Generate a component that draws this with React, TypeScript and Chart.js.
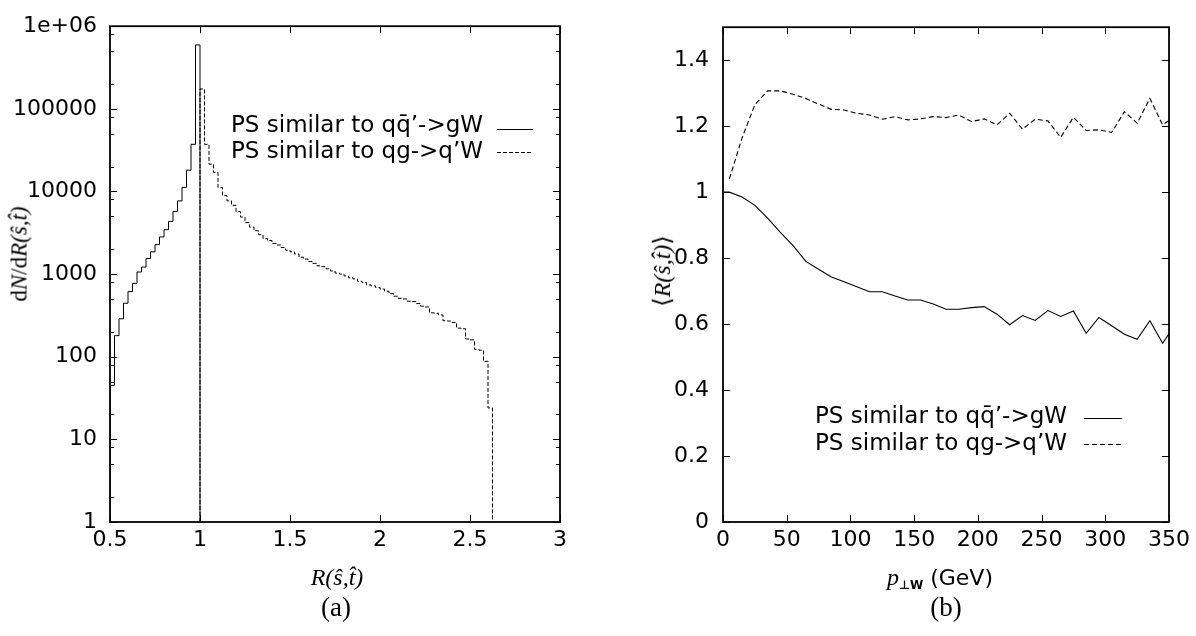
import React, { useEffect, useRef } from 'react';
import { Chart, registerables } from 'chart.js';

Chart.register(...registerables);

// ---------- Panel (a): histogram of R(s,t) ----------
const solidEdges = [0.5, 0.525, 0.55, 0.575, 0.6, 0.625, 0.65, 0.675, 0.7, 0.725, 0.75, 0.775, 0.8, 0.825, 0.85, 0.875, 0.9, 0.925, 0.95, 0.975, 1.0];
const solidCounts = [45, 180, 288, 444, 614, 773, 1060, 1217, 1545, 1860, 2276, 2818, 3446, 4345, 5730, 7690, 11200, 18100, 37200, 593000];

const dashedEdges = [1.0, 1.025, 1.05, 1.075, 1.1, 1.125, 1.15, 1.175, 1.2, 1.225, 1.25, 1.275, 1.3, 1.325, 1.35, 1.375, 1.4, 1.425, 1.45, 1.475, 1.5, 1.525, 1.55, 1.575, 1.6, 1.625, 1.65, 1.675, 1.7, 1.725, 1.75, 1.775, 1.8, 1.825, 1.85, 1.875, 1.9, 1.925, 1.95, 1.975, 2.0, 2.025, 2.05, 2.075, 2.1, 2.125, 2.15, 2.175, 2.2, 2.225, 2.25, 2.275, 2.3, 2.325, 2.35, 2.375, 2.4, 2.425, 2.45, 2.475, 2.5, 2.525, 2.55, 2.575, 2.6, 2.625];
const dashedCounts = [174000, 37200, 21400, 17000, 11200, 8900, 7700, 6800, 5700, 4900, 4200, 3700, 3350, 3000, 2700, 2550, 2350, 2250, 2100, 1950, 1860, 1750, 1600, 1520, 1420, 1350, 1260, 1230, 1160, 1090, 1030, 1000, 950, 900, 875, 820, 790, 740, 720, 690, 660, 620, 580, 540, 510, 500, 470, 465, 440, 410, 400, 340, 336, 320, 273, 270, 260, 222, 218, 164, 160, 123, 120, 88, 24];

const histFloor = 1;
const logTickValues = [1, 10, 100, 1000, 10000, 100000, 1000000];
const logTickLabels = ['1', '10', '100', '1000', '10000', '100000', '1e+06'];
const logMinorFactors = [2, 5, 8];
const histXTicks = [0.5, 1, 1.5, 2, 2.5, 3];

// ---------- Panel (b): <R(s,t)> vs pT ----------
const ptSolid = [0, 5, 15, 25, 35, 45, 55, 65, 75, 85, 95, 105, 115, 125, 135, 145, 155, 165, 175, 185, 195, 205, 215, 225, 235, 245, 255, 265, 275, 285, 295, 305, 315, 325, 335, 345, 355];
const meanSolid = [1.0, 1.0, 0.985, 0.96, 0.921, 0.878, 0.838, 0.79, 0.766, 0.743, 0.728, 0.713, 0.698, 0.698, 0.685, 0.673, 0.673, 0.661, 0.645, 0.645, 0.65, 0.653, 0.63, 0.598, 0.626, 0.611, 0.641, 0.623, 0.64, 0.572, 0.62, 0.595, 0.569, 0.554, 0.61, 0.542, 0.6];
const ptDashed = [5, 15, 25, 35, 45, 55, 65, 75, 85, 95, 105, 115, 125, 135, 145, 155, 165, 175, 185, 195, 205, 215, 225, 235, 245, 255, 265, 275, 285, 295, 305, 315, 325, 335, 345, 355];
const meanDashed = [1.04, 1.165, 1.265, 1.307, 1.307, 1.297, 1.284, 1.267, 1.251, 1.249, 1.239, 1.234, 1.221, 1.229, 1.219, 1.222, 1.229, 1.226, 1.234, 1.214, 1.222, 1.204, 1.239, 1.191, 1.221, 1.216, 1.166, 1.227, 1.187, 1.189, 1.181, 1.244, 1.209, 1.284, 1.204, 1.23];
const ptTicks = [0, 50, 100, 150, 200, 250, 300, 350];
const meanTicks = [0, 0.2, 0.4, 0.6, 0.8, 1, 1.2, 1.4];

const legendLabels = ['PS similar to q\u0071\u0304\u2019->gW', 'PS similar to qg->q\u2019W'];

const W = 1196;
const H = 636;
const HALF = 598;
const TICK_FONT = { family: '"DejaVu Sans", sans-serif', size: 22 };

function makeFramePlugin(xMajor: number[], yMajor: number[], yMinor: number[]) {
  return {
    id: 'frameTicks',
    afterDraw(chart: any) {
      const { ctx, chartArea: a, scales } = chart;
      const xs = scales.x;
      const ys = scales.y;
      ctx.save();
      ctx.strokeStyle = '#000';
      ctx.lineWidth = 1;
      const seg = (x1: number, y1: number, x2: number, y2: number) => {
        ctx.beginPath();
        ctx.moveTo(x1, y1);
        ctx.lineTo(x2, y2);
        ctx.stroke();
      };
      for (const v of xMajor) {
        const px = Math.round(xs.getPixelForValue(v)) + 0.5;
        seg(px, a.bottom, px, a.bottom - 7);
        seg(px, a.top, px, a.top + 7);
      }
      for (const v of yMajor) {
        const py = Math.round(ys.getPixelForValue(v)) + 0.5;
        seg(a.left, py, a.left + 7, py);
        seg(a.right, py, a.right - 7, py);
      }
      for (const v of yMinor) {
        const py = Math.round(ys.getPixelForValue(v)) + 0.5;
        seg(a.left, py, a.left + 4, py);
        seg(a.right, py, a.right - 4, py);
      }
      ctx.lineWidth = 1.8;
      ctx.strokeRect(a.left, a.top, a.right - a.left, a.bottom - a.top);
      ctx.restore();
    },
  };
}

type LegendRow = { label: string; dash: number[]; textY: number; lineY: number };
function makeLegendPlugin(textRight: number, lineX1: number, lineX2: number, rows: LegendRow[]) {
  return {
    id: 'inlineLegend',
    afterDraw(chart: any) {
      const { ctx } = chart;
      ctx.save();
      ctx.fillStyle = '#000';
      ctx.strokeStyle = '#000';
      ctx.lineWidth = 1;
      ctx.font = '23px "DejaVu Sans", sans-serif';
      ctx.textAlign = 'right';
      ctx.textBaseline = 'alphabetic';
      for (const r of rows) {
        ctx.fillText(r.label, textRight, r.textY);
        ctx.setLineDash(r.dash);
        ctx.beginPath();
        ctx.moveTo(lineX1, r.lineY + 0.5);
        ctx.lineTo(lineX2, r.lineY + 0.5);
        ctx.stroke();
      }
      ctx.restore();
    },
  };
}

export default function App() {
  const leftRef = useRef<HTMLCanvasElement>(null);
  const rightRef = useRef<HTMLCanvasElement>(null);

  useEffect(() => {
    const solidPts = [{ x: solidEdges[0], y: histFloor }]
      .concat(solidCounts.map((c, i) => ({ x: solidEdges[i], y: c })))
      .concat([{ x: solidEdges[solidEdges.length - 1], y: histFloor }]);
    const dashedPts = [{ x: dashedEdges[0], y: histFloor }]
      .concat(dashedCounts.map((c, i) => ({ x: dashedEdges[i], y: c })))
      .concat([{ x: dashedEdges[dashedEdges.length - 1], y: histFloor }]);

    const yMinorLog: number[] = [];
    for (let i = 0; i < logTickValues.length - 1; i++) {
      for (const f of logMinorFactors) yMinorLog.push(logTickValues[i] * f);
    }

    const left = new Chart(leftRef.current!, {
      type: 'line',
      data: {
        datasets: [
          { data: solidPts, borderColor: '#000', borderWidth: 1, pointRadius: 0, stepped: true, fill: false },
          { data: dashedPts, borderColor: '#000', borderWidth: 1, borderDash: [4, 2], pointRadius: 0, stepped: true, fill: false },
        ],
      } as any,
      options: {
        responsive: false,
        animation: false,
        devicePixelRatio: 1,
        layout: { padding: { top: 23, right: 38, left: 0, bottom: 0 } },
        plugins: { legend: { display: false }, tooltip: { enabled: false } },
        scales: {
          x: {
            type: 'linear',
            min: 0.5,
            max: 3,
            grid: { display: false, drawTicks: false },
            border: { display: false },
            afterBuildTicks: (s: any) => { s.ticks = histXTicks.map((v) => ({ value: v })); },
            afterFit: (s: any) => { s.height = 114; },
            ticks: { font: TICK_FONT, color: '#000', padding: 5, maxRotation: 0, autoSkip: false, callback: (v: any) => String(v) },
          },
          y: {
            type: 'logarithmic',
            min: 1,
            max: 1000000,
            grid: { display: false, drawTicks: false },
            border: { display: false },
            afterBuildTicks: (s: any) => { s.ticks = logTickValues.map((v) => ({ value: v })); },
            afterFit: (s: any) => { s.width = 110; },
            ticks: {
              font: TICK_FONT, color: '#000', padding: 13, autoSkip: false,
              callback: (v: any) => { const i = logTickValues.indexOf(Number(v)); return i >= 0 ? logTickLabels[i] : ''; },
            },
          },
        },
      } as any,
      plugins: [
        makeFramePlugin(histXTicks, logTickValues, yMinorLog),
        makeLegendPlugin(483, 497, 533, [
          { label: legendLabels[0], dash: [], textY: 132, lineY: 129 },
          { label: legendLabels[1], dash: [4, 2], textY: 158, lineY: 152 },
        ]),
      ],
    });

    const right = new Chart(rightRef.current!, {
      type: 'line',
      data: {
        datasets: [
          { data: ptSolid.map((p, i) => ({ x: p, y: meanSolid[i] })), borderColor: '#000', borderWidth: 1.1, pointRadius: 0, tension: 0, fill: false },
          { data: ptDashed.map((p, i) => ({ x: p, y: meanDashed[i] })), borderColor: '#000', borderWidth: 1.1, borderDash: [5, 3], pointRadius: 0, tension: 0, fill: false },
        ],
      } as any,
      options: {
        responsive: false,
        animation: false,
        devicePixelRatio: 1,
        layout: { padding: { top: 23, right: 27, left: 0, bottom: 0 } },
        plugins: { legend: { display: false }, tooltip: { enabled: false } },
        scales: {
          x: {
            type: 'linear',
            min: 0,
            max: 350,
            grid: { display: false, drawTicks: false },
            border: { display: false },
            afterBuildTicks: (s: any) => { s.ticks = ptTicks.map((v) => ({ value: v })); },
            afterFit: (s: any) => { s.height = 114; },
            ticks: { font: TICK_FONT, color: '#000', padding: 5, maxRotation: 0, autoSkip: false, callback: (v: any) => String(v) },
          },
          y: {
            type: 'linear',
            min: 0,
            max: 1.5,
            grid: { display: false, drawTicks: false },
            border: { display: false },
            afterBuildTicks: (s: any) => { s.ticks = meanTicks.map((v) => ({ value: v })); },
            afterFit: (s: any) => { s.width = 125; },
            ticks: { font: TICK_FONT, color: '#000', padding: 14, autoSkip: false, callback: (v: any) => String(v) },
          },
        },
      } as any,
      plugins: [
        makeFramePlugin(ptTicks, meanTicks, []),
        makeLegendPlugin(1067 - HALF, 1084 - HALF, 1122 - HALF, [
          { label: legendLabels[0], dash: [], textY: 423, lineY: 418 },
          { label: legendLabels[1], dash: [5, 3], textY: 450, lineY: 444 },
        ]),
      ],
    });

    return () => {
      left.destroy();
      right.destroy();
    };
  }, []);

  const serif = '"Liberation Serif", "DejaVu Serif", serif';
  const sans = '"DejaVu Sans", sans-serif';
  const label = (x: number, y: number, rot: boolean, content: React.ReactNode, extra: React.CSSProperties = {}) => (
    <div
      style={{
        position: 'absolute', left: x, top: y, whiteSpace: 'nowrap', lineHeight: 1,
        transform: `translate(-50%, -50%)${rot ? ' rotate(-90deg)' : ''}`,
        fontFamily: serif, fontSize: 23, color: '#000', ...extra,
      }}
    >
      {content}
    </div>
  );

  return (
    <div style={{ position: 'fixed', left: 0, top: 0, width: W, height: H, background: '#fff', overflow: 'hidden' }}>
      <canvas ref={leftRef} width={HALF} height={H} style={{ position: 'absolute', left: 0, top: 0, width: HALF, height: H }} />
      <canvas ref={rightRef} width={HALF} height={H} style={{ position: 'absolute', left: HALF, top: 0, width: HALF, height: H }} />
      {label(19, 254, true, <span>d<i>N</i>/d<i>R(s{'\u0302'},t{'\u0302'})</i></span>)}
      {label(337, 577, false, <i>R(s{'\u0302'},t{'\u0302'})</i>, { fontSize: 24 })}
      {label(336, 607, false, <span>(a)</span>, { fontSize: 27 })}
      {label(662, 271, true, <span>{'\u27E8'}<i>R(s{'\u0302'},t{'\u0302'})</i>{'\u27E9'}</span>, { fontSize: 24 })}
      {label(940, 577, false, <span><i style={{ fontSize: 24 }}>p</i><span style={{ fontFamily: sans, fontSize: 12, fontWeight: 'bold', position: 'relative', top: 4 }}>{'\u22A5'}W</span><span style={{ fontFamily: sans, fontSize: 22 }}> (GeV)</span></span>)}
      {label(946, 607, false, <span>(b)</span>, { fontSize: 27 })}
    </div>
  );
}
